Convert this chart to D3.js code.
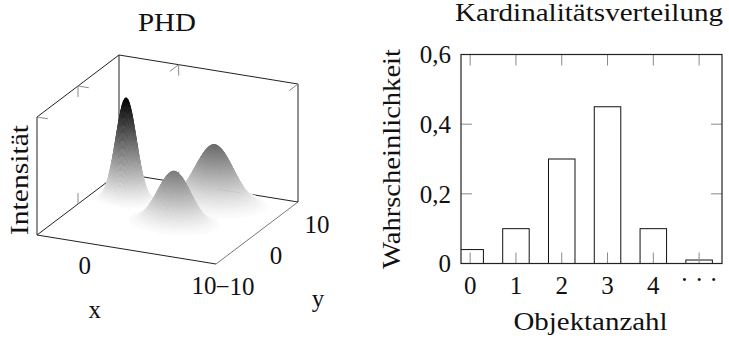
<!DOCTYPE html>
<html>
<head>
<meta charset="utf-8">
<script src="https://cdn.jsdelivr.net/npm/d3@7"></script>
<style>
  body { margin: 0; background: #fff; }
  text { font-family: "Liberation Serif", serif; fill: #111; }
</style>
</head>
<body>
<svg id="chart" width="729" height="339"></svg>
<script>
// --- PHD surface: three gaussian components ---
const peakX = [-2, 3.4, 4.4]
const peakY = [3, -1, 5.9]
const peakHeight = [0.87, 0.44, 0.5]
const peakSigma = [0.8, 1.3, 1.5]
const xDomain = [-5, 10]
const yDomain = [-10, 10]
const zDomain = [0, 1]
const xTicks3d = [0, 10]
const yTicks3d = [-10, 0, 10]

// --- cardinality distribution ---
const counts = ["0", "1", "2", "3", "4", "\u00b7 \u00b7 \u00b7"]
const probs = [0.04, 0.1, 0.3, 0.45, 0.1, 0.01]
const probTicks = [0, 0.2, 0.4, 0.6]

const svg = d3.select("#chart")
const fontSize = 25
const tickColor = "#8a8a8a"
const boxColor = "#222"

// the reference face is a wide book face, stretch the serif words a bit
const word = (g, str, width) => g.append("text")
  .attr("text-anchor", "middle")
  .attr("font-size", fontSize)
  .attr("textLength", width)
  .attr("lengthAdjust", "spacingAndGlyphs")
  .text(str)

// ---------- left chart ----------
const origin = [37, 235]
const ex = [179, 29], ey = [82, -62], ez = [0, -118]
const ux = d3.scaleLinear().domain(xDomain).range([0, 1])
const uy = d3.scaleLinear().domain(yDomain).range([0, 1])
const uz = d3.scaleLinear().domain(zDomain).range([0, 1])

const proj = (x, y, z) => {
  const a = ux(x), b = uy(y), c = uz(z)
  return [origin[0] + a * ex[0] + b * ey[0] + c * ez[0],
          origin[1] + a * ex[1] + b * ey[1] + c * ez[1]]
}

const intensity = (x, y) => d3.sum(peakX, (px, i) => {
  const dx = x - px, dy = y - peakY[i]
  return peakHeight[i] * Math.exp(-(dx * dx + dy * dy) / (2 * peakSigma[i] * peakSigma[i]))
})

const [x0, x1] = xDomain, [y0, y1] = yDomain, [z0, z1] = zDomain
const left = svg.append("g")

const line3d = (g, pts, color, width) => {
  g.append("path")
    .attr("d", d3.line()(pts.map(p => proj(...p))))
    .attr("fill", "none")
    .attr("stroke", color)
    .attr("stroke-width", width)
}

// back box edges
const back = left.append("g")
line3d(back, [[x0, y0, 0], [x0, y1, 0], [x1, y1, 0]], boxColor, 1)
line3d(back, [[x0, y1, 0], [x0, y1, z1]], boxColor, 1)
line3d(back, [[x1, y1, 0], [x1, y1, z1]], boxColor, 1)
line3d(back, [[x0, y0, z1], [x0, y1, z1], [x1, y1, z1]], boxColor, 1)

// back ticks (pointing into the box)
const tickPx = 11
const unitDir = (p, q) => {
  const a = proj(...p), b = proj(...q)
  const l = Math.hypot(b[0] - a[0], b[1] - a[1])
  return [(b[0] - a[0]) / l, (b[1] - a[1]) / l]
}
const dirX = unitDir([x0, 0, 0], [x1, 0, 0])
const dirYback = unitDir([0, y1, 0], [0, y0, 0])
const tick = (p, d) => {
  const s = proj(...p)
  back.append("line")
    .attr("x1", s[0]).attr("y1", s[1])
    .attr("x2", s[0] + d[0] * tickPx).attr("y2", s[1] + d[1] * tickPx)
    .attr("stroke", tickColor).attr("stroke-width", 1)
}
yTicks3d.forEach(v => {
  if (v < y1) tick([x0, v, z1], dirX)
  if (v > y0 && v < y1) {
    tick([x0, v, z1], [0, 1])
    tick([x0, v, 0], [0, -1])
  }
})
xTicks3d.forEach(v => {
  tick([v, y1, z1], dirYback)
  if (v < x1) {
    tick([v, y1, z1], [0, 1])
    tick([v, y1, 0], [0, -1])
  }
})

// surface
const step = 0.1
const nx = Math.round((x1 - x0) / step), ny = Math.round((y1 - y0) / step)
const grid = d3.range(nx + 1).map(i => d3.range(ny + 1).map(j => intensity(x0 + i * step, y0 + j * step)))
const zMax = d3.max(grid, col => d3.max(col))
const gray = d3.scaleLinear().domain([0, zMax]).range(["#ffffff", "#000000"])
const quads = []
for (let i = 0; i < nx; i++) {
  for (let j = 0; j < ny; j++) {
    const zs = [grid[i][j], grid[i + 1][j], grid[i + 1][j + 1], grid[i][j + 1]]
    const zAvg = d3.mean(zs)
    if (zAvg / zMax < 0.012) continue
    const xa = x0 + i * step, xb = xa + step, ya = y0 + j * step, yb = ya + step
    const pts = [proj(xa, ya, zs[0]), proj(xb, ya, zs[1]), proj(xb, yb, zs[2]), proj(xa, yb, zs[3])]
    const depth = proj(xa + step / 2, ya + step / 2, 0)[1]
    quads.push({ pts, z: zAvg, depth })
  }
}
quads.sort((a, b) => a.depth - b.depth)
left.append("g")
  .selectAll("path")
  .data(quads)
  .join("path")
    .attr("d", d => "M" + d.pts.join("L") + "Z")
    .attr("fill", d => gray(d.z))
    .attr("stroke", d => gray(d.z))
    .attr("stroke-width", 0.4)

// front box edges
const front = left.append("g")
line3d(front, [[x0, y0, z1], [x0, y0, 0], [x1, y0, 0]], boxColor, 1)
line3d(front, [[x1, y0, 0], [x1, y1, 0]], "#555", 0.8)

// tick labels
xTicks3d.forEach(v => {
  const p = proj(v, y0, 0)
  left.append("text")
    .attr("x", p[0] - 12).attr("y", p[1] + 21)
    .attr("dy", "0.35em")
    .attr("text-anchor", "middle")
    .attr("font-size", fontSize)
    .text(v)
})
yTicks3d.forEach(v => {
  const p = proj(x1, v, 0)
  left.append("text")
    .attr("x", p[0] + 19).attr("y", p[1] + 22)
    .attr("dy", "0.35em")
    .attr("text-anchor", "middle")
    .attr("font-size", fontSize)
    .text(v < 0 ? "\u2212" + Math.abs(v) : v)
})

const xLab = proj(0, y0, 0)
left.append("text")
  .attr("x", xLab[0] - 2).attr("y", xLab[1] + 73)
  .attr("text-anchor", "middle")
  .attr("font-size", fontSize)
  .text("x")
const yLab = proj(x1, 0, 0)
left.append("text")
  .attr("x", yLab[0] + 61).attr("y", yLab[1] + 74)
  .attr("text-anchor", "middle")
  .attr("font-size", fontSize)
  .text("y")
word(left, "Intensität", 110)
  .attr("transform", "translate(28,180) rotate(-90)")
word(left, "PHD", 58)
  .attr("x", 167).attr("y", 31)

// ---------- right chart ----------
const plotL = 461, plotR = 722, plotT = 54.5, plotB = 263.5
const bx = d3.scaleLinear().domain([-0.2, 5.5]).range([plotL, plotR])
const by = d3.scaleLinear().domain([0, 0.6]).range([plotB, plotT])
const barW = 26.5
const fmt = d3.formatLocale({ decimal: ",", thousands: ".", grouping: [3], currency: ["", "€"] }).format("~g")

const right = svg.append("g")
right.append("clipPath").attr("id", "plotclip")
  .append("rect")
  .attr("x", plotL).attr("y", plotT)
  .attr("width", plotR - plotL).attr("height", plotB - plotT)

right.append("g")
  .attr("clip-path", "url(#plotclip)")
  .selectAll("rect")
  .data(probs)
  .join("rect")
    .attr("x", (d, i) => bx(i) - barW / 2)
    .attr("y", d => by(d))
    .attr("width", barW)
    .attr("height", d => by(0) - by(d))
    .attr("fill", "#fff")
    .attr("stroke", "#111")
    .attr("stroke-width", 1)

const ticks = right.append("g")
  .attr("stroke", tickColor)
  .attr("stroke-width", 1)
counts.forEach((c, i) => {
  ticks.append("line").attr("x1", bx(i)).attr("x2", bx(i)).attr("y1", plotT).attr("y2", plotT + tickPx)
  ticks.append("line").attr("x1", bx(i)).attr("x2", bx(i)).attr("y1", plotB).attr("y2", plotB - tickPx)
})
probTicks.forEach(v => {
  ticks.append("line").attr("x1", plotL).attr("x2", plotL + tickPx).attr("y1", by(v)).attr("y2", by(v))
  ticks.append("line").attr("x1", plotR).attr("x2", plotR - tickPx).attr("y1", by(v)).attr("y2", by(v))
})

right.append("rect")
  .attr("x", plotL).attr("y", plotT)
  .attr("width", plotR - plotL).attr("height", plotB - plotT)
  .attr("fill", "none")
  .attr("stroke", boxColor)
  .attr("stroke-width", 1.2)

right.append("g")
  .selectAll("text")
  .data(counts)
  .join("text")
    .attr("x", (d, i) => bx(i))
    .attr("y", plotB + 22)
    .attr("dy", d => d.length > 1 ? "0.1em" : "0.35em")
    .attr("text-anchor", "middle")
    .attr("font-size", fontSize)
    .text(d => d)

right.append("g")
  .selectAll("text")
  .data(probTicks)
  .join("text")
    .attr("x", plotL - 10)
    .attr("y", d => by(d))
    .attr("dy", "0.35em")
    .attr("text-anchor", "end")
    .attr("font-size", fontSize)
    .text(d => fmt(d))

word(right, "Objektanzahl", 154)
  .attr("x", (plotL + plotR) / 2 - 1).attr("y", 330)
word(right, "Wahrscheinlichkeit", 220)
  .attr("transform", `translate(400,${(plotT + plotB) / 2}) rotate(-90)`)
word(right, "Kardinalitätsverteilung", 268)
  .attr("x", 589).attr("y", 21)
</script>
</body>
</html>
